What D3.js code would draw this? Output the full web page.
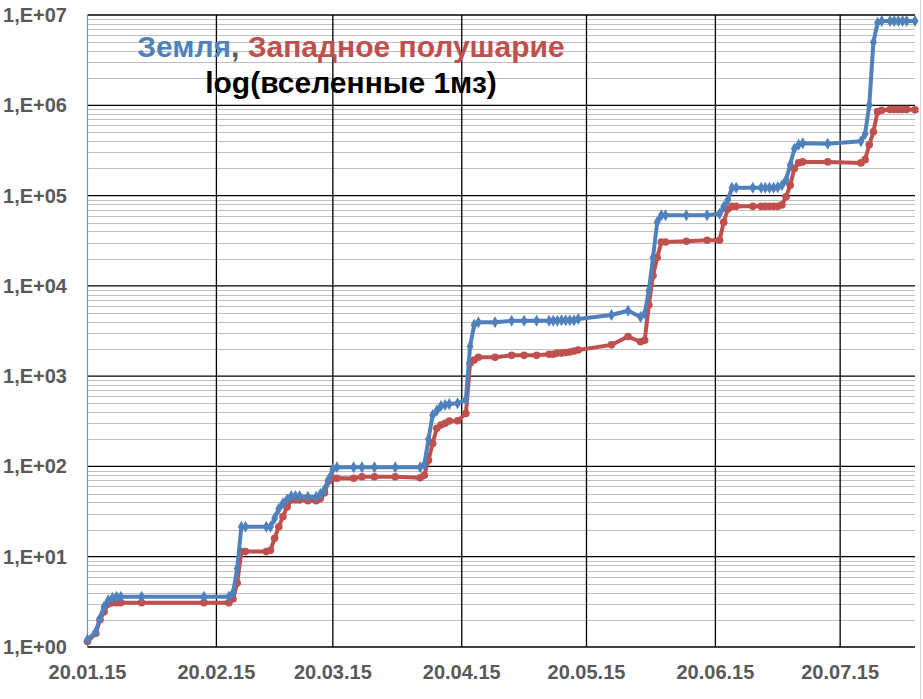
<html>
<head>
<meta charset="utf-8">
<script src="https://d3js.org/d3.v7.min.js"></script>
<style>
  body { margin: 0; background: #fff; }
  text { font-family: "Liberation Sans", Arial, sans-serif; font-weight: bold; }
</style>
</head>
<body>
<script>

  // dates of observations (dd.mm.yy)
  let dates = [
    "20.01.15","22.01.15","23.01.15","24.01.15","25.01.15","26.01.15","27.01.15","28.01.15",
    "02.02.15","17.02.15","23.02.15","24.02.15","25.02.15","26.02.15","27.02.15",
    "04.03.15","05.03.15","06.03.15","07.03.15","08.03.15","09.03.15","10.03.15","11.03.15","12.03.15",
    "14.03.15","16.03.15","17.03.15","18.03.15","19.03.15","20.03.15","21.03.15","25.03.15","27.03.15","30.03.15",
    "04.04.15","10.04.15","11.04.15","12.04.15","13.04.15","14.04.15","15.04.15","16.04.15","17.04.15","19.04.15",
    "21.04.15","22.04.15","23.04.15","24.04.15","28.04.15",
    "02.05.15","05.05.15","08.05.15","11.05.15","12.05.15","13.05.15","14.05.15","15.05.15","16.05.15","17.05.15",
    "18.05.15","26.05.15","30.05.15",
    "02.06.15","03.06.15","04.06.15","05.06.15","06.06.15","07.06.15","08.06.15","13.06.15","18.06.15",
    "21.06.15","22.06.15","23.06.15","24.06.15","25.06.15","29.06.15",
    "01.07.15","02.07.15","03.07.15","04.07.15","05.07.15","06.07.15","07.07.15","08.07.15","09.07.15","10.07.15","11.07.15",
    "17.07.15","25.07.15","26.07.15","27.07.15","28.07.15","29.07.15","30.07.15",
    "01.08.15","02.08.15","03.08.15","04.08.15","05.08.15","07.08.15"
  ];

  // Земля (blue)
  let earth = [
    1.2,1.48,2.08,2.8,3.3,3.5,3.6,3.6,
    3.6,3.6,3.6,4.0,7.4,21.5,21.5,
    21.5,21.5,26.6,34,39,43,47,47,47,
    46,46,49.5,55,72,93,98,98,98,98,
    98,98,105,200,370,415,466,480,490,500,
    550,2130,3700,3960,3960,
    4100,4100,4100,4100,4100,4100,4150,4150,4150,4150,
    4300,4750,5300,
    4530,4930,8900,20600,50800,60400,60400,60400,60400,
    63000,75000,90000,122000,122000,122000,
    122000,122000,122000,122000,124000,130000,150000,220000,330000,366000,380000,
    375000,400000,480000,1000000,5000000,8200000,8600000,
    8600000,8600000,8600000,8600000,8600000,8600000
  ];

  // Западное полушарие (red)
  let west = [
    1.15,1.42,2.0,2.46,3.0,3.1,3.1,3.1,
    3.1,3.1,3.1,3.4,5.1,11.4,11.4,
    11.4,11.8,16,21.5,27.8,35.7,42.5,42.5,42.5,
    41.8,41.8,44,51,69,74,74,74,77,77,
    77,75,80,117,180,265,287,300,318,320,
    385,1390,1510,1620,1620,
    1700,1700,1700,1750,1750,1800,1800,1830,1850,1900,
    1950,2220,2750,
    2400,2500,6150,13000,20600,30600,30600,31200,32000,
    32000,50800,71000,76000,76000,76000,
    76000,76000,76000,76000,76000,78800,97000,130000,200000,230000,236000,
    236000,230000,250000,365000,510000,850000,880000,
    900000,900000,900000,900000,900000,890000
  ];

  let yTickValues = [1,10,100,1000,10000,100000,1000000,10000000];
  let xTickLabels = ["20.01.15","20.02.15","20.03.15","20.04.15","20.05.15","20.06.15","20.07.15"];

  let parseDate = d3.timeParse("%d.%m.%y");
  let blue = "#4F81BD", red = "#C0504D", grey = "#595959";

  let width = 923, height = 699;
  let plotLeft = 87.5, plotRight = 915, plotTop = 15, plotBottom = 647;

  let svg = d3.select("body").append("svg")
      .attr("width", width)
      .attr("height", height);

  let x = d3.scaleTime()
      .domain([parseDate("20.01.15"), parseDate("07.08.15")])
      .range([plotLeft, plotRight]);

  let y = d3.scaleLog()
      .domain([1, 1e7])
      .range([plotBottom, plotTop]);

  // minor horizontal grid
  let minor = [];
  for (let e = 0; e < 7; e++) {
    for (let m = 2; m <= 9; m++) minor.push(m * Math.pow(10, e));
  }
  svg.append("g").selectAll("line").data(minor).join("line")
      .attr("x1", plotLeft).attr("x2", plotRight)
      .attr("y1", d => Math.round(y(d)) + 0.5).attr("y2", d => Math.round(y(d)) + 0.5)
      .attr("stroke", "#bfbfbf").attr("stroke-width", 1);

  // major horizontal grid
  svg.append("g").selectAll("line").data(yTickValues.slice(1)).join("line")
      .attr("x1", plotLeft).attr("x2", plotRight)
      .attr("y1", d => y(d)).attr("y2", d => y(d))
      .attr("stroke", "#000").attr("stroke-width", 1.3);

  // vertical grid
  let xTicks = xTickLabels.map(parseDate);
  svg.append("g").selectAll("line").data(xTicks.slice(1)).join("line")
      .attr("x1", d => x(d)).attr("x2", d => x(d))
      .attr("y1", plotTop).attr("y2", plotBottom)
      .attr("stroke", "#000").attr("stroke-width", 1.3);

  // axes lines
  svg.append("line")
      .attr("x1", plotLeft).attr("x2", plotLeft).attr("y1", plotTop).attr("y2", plotBottom)
      .attr("stroke", "#6f93c6").attr("stroke-width", 1.2);
  svg.append("line")
      .attr("x1", plotLeft).attr("x2", plotRight).attr("y1", plotBottom).attr("y2", plotBottom)
      .attr("stroke", "#000").attr("stroke-width", 1.5);

  // outer chart border on the right
  svg.append("line")
      .attr("x1", width - 2.5).attr("x2", width - 2.5).attr("y1", 0).attr("y2", height)
      .attr("stroke", "#d9d9d9");

  // y labels
  svg.append("g").selectAll("text").data(yTickValues).join("text")
      .attr("x", 67).attr("y", d => y(d) + 7)
      .attr("text-anchor", "end")
      .attr("font-size", 20).attr("fill", grey)
      .text(d => "1,E+" + d3.format("02d")(Math.round(Math.log10(d))));

  // x labels
  svg.append("g").selectAll("text").data(xTicks).join("text")
      .attr("x", d => x(d)).attr("y", 679)
      .attr("text-anchor", "middle")
      .attr("font-size", 20).attr("fill", grey)
      .text(d => d3.timeFormat("%d.%m.%y")(d));

  let pts = dates.map((d, i) => ({date: parseDate(d), e: earth[i], w: west[i]}));

  let lineE = d3.line().x(d => x(d.date)).y(d => y(d.e));
  let lineW = d3.line().x(d => x(d.date)).y(d => y(d.w));

  // red series
  svg.append("path").datum(pts)
      .attr("d", lineW).attr("fill", "none")
      .attr("stroke", red).attr("stroke-width", 4).attr("stroke-linejoin", "round");
  svg.append("g").selectAll("circle").data(pts).join("circle")
      .attr("cx", d => x(d.date)).attr("cy", d => y(d.w)).attr("r", 3.8)
      .attr("fill", red);

  // blue series
  svg.append("path").datum(pts)
      .attr("d", lineE).attr("fill", "none")
      .attr("stroke", blue).attr("stroke-width", 4).attr("stroke-linejoin", "round");
  let diamond = d3.symbol().type(d3.symbolDiamond).size(42);
  svg.append("g").selectAll("path").data(pts).join("path")
      .attr("transform", d => "translate(" + x(d.date) + "," + y(d.e) + ")")
      .attr("d", diamond)
      .attr("fill", blue);

  // title
  let t1 = svg.append("text")
      .attr("x", 351).attr("y", 57)
      .attr("text-anchor", "middle")
      .attr("font-size", 30);
  t1.append("tspan").attr("fill", blue).text("Земля");
  t1.append("tspan").attr("fill", grey).text(", ");
  t1.append("tspan").attr("fill", red).text("Западное полушарие");

  svg.append("text")
      .attr("x", 351).attr("y", 93)
      .attr("text-anchor", "middle")
      .attr("font-size", 30).attr("fill", "#000")
      .text("log(вселенные 1мз)");

</script>
</body>
</html>
